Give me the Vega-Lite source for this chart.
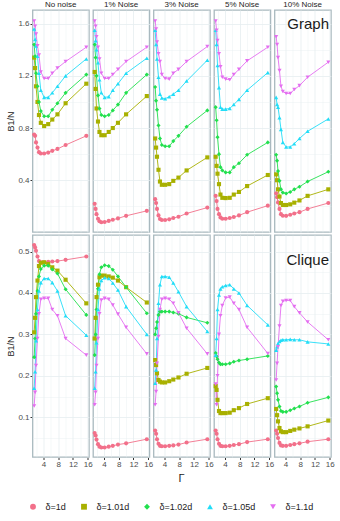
{
"$schema":"https://vega.github.io/schema/vega-lite/v6.json",
"padding":{"left":6.5,"top":1,"right":4,"bottom":2},
"datasets":{"pts":[
{"r":"G","c":"No noise","d":"δ=1d","g":1.5,"b":0.75},{"r":"G","c":"No noise","d":"δ=1d","g":1.75,"b":0.74},{"r":"G","c":"No noise","d":"δ=1d","g":2,"b":0.69},{"r":"G","c":"No noise","d":"δ=1d","g":2.4,"b":0.65},{"r":"G","c":"No noise","d":"δ=1d","g":2.8,"b":0.615},{"r":"G","c":"No noise","d":"δ=1d","g":3.3,"b":0.605},{"r":"G","c":"No noise","d":"δ=1d","g":4.2,"b":0.605},{"r":"G","c":"No noise","d":"δ=1d","g":5.3,"b":0.612},{"r":"G","c":"No noise","d":"δ=1d","g":6.4,"b":0.625},{"r":"G","c":"No noise","d":"δ=1d","g":7.8,"b":0.64},{"r":"G","c":"No noise","d":"δ=1d","g":10,"b":0.67},{"r":"G","c":"No noise","d":"δ=1d","g":15.6,"b":0.74},
{"r":"G","c":"No noise","d":"δ=1.01d","g":1.5,"b":1.34},{"r":"G","c":"No noise","d":"δ=1.01d","g":1.75,"b":1.26},{"r":"G","c":"No noise","d":"δ=1.01d","g":2,"b":1.12},{"r":"G","c":"No noise","d":"δ=1.01d","g":2.4,"b":1.0},{"r":"G","c":"No noise","d":"δ=1.01d","g":2.8,"b":0.9},{"r":"G","c":"No noise","d":"δ=1.01d","g":3.3,"b":0.84},{"r":"G","c":"No noise","d":"δ=1.01d","g":4.2,"b":0.815},{"r":"G","c":"No noise","d":"δ=1.01d","g":5.3,"b":0.83},{"r":"G","c":"No noise","d":"δ=1.01d","g":6.4,"b":0.865},{"r":"G","c":"No noise","d":"δ=1.01d","g":7.8,"b":0.905},{"r":"G","c":"No noise","d":"δ=1.01d","g":10,"b":0.99},{"r":"G","c":"No noise","d":"δ=1.01d","g":15.6,"b":1.14},
{"r":"G","c":"No noise","d":"δ=1.02d","g":1.5,"b":1.44},{"r":"G","c":"No noise","d":"δ=1.02d","g":1.75,"b":1.35},{"r":"G","c":"No noise","d":"δ=1.02d","g":2,"b":1.22},{"r":"G","c":"No noise","d":"δ=1.02d","g":2.4,"b":1.12},{"r":"G","c":"No noise","d":"δ=1.02d","g":2.8,"b":1.0},{"r":"G","c":"No noise","d":"δ=1.02d","g":3.3,"b":0.93},{"r":"G","c":"No noise","d":"δ=1.02d","g":4.2,"b":0.89},{"r":"G","c":"No noise","d":"δ=1.02d","g":5.3,"b":0.89},{"r":"G","c":"No noise","d":"δ=1.02d","g":6.4,"b":0.94},{"r":"G","c":"No noise","d":"δ=1.02d","g":7.8,"b":0.99},{"r":"G","c":"No noise","d":"δ=1.02d","g":10,"b":1.07},{"r":"G","c":"No noise","d":"δ=1.02d","g":15.6,"b":1.21},
{"r":"G","c":"No noise","d":"δ=1.05d","g":1.5,"b":1.56},{"r":"G","c":"No noise","d":"δ=1.05d","g":1.75,"b":1.48},{"r":"G","c":"No noise","d":"δ=1.05d","g":2,"b":1.43},{"r":"G","c":"No noise","d":"δ=1.05d","g":2.4,"b":1.35},{"r":"G","c":"No noise","d":"δ=1.05d","g":2.8,"b":1.22},{"r":"G","c":"No noise","d":"δ=1.05d","g":3.3,"b":1.09},{"r":"G","c":"No noise","d":"δ=1.05d","g":4.2,"b":1.035},{"r":"G","c":"No noise","d":"δ=1.05d","g":5.3,"b":1.035},{"r":"G","c":"No noise","d":"δ=1.05d","g":6.4,"b":1.07},{"r":"G","c":"No noise","d":"δ=1.05d","g":7.8,"b":1.12},{"r":"G","c":"No noise","d":"δ=1.05d","g":10,"b":1.2},{"r":"G","c":"No noise","d":"δ=1.05d","g":15.6,"b":1.33},
{"r":"G","c":"No noise","d":"δ=1.1d","g":1.5,"b":1.62},{"r":"G","c":"No noise","d":"δ=1.1d","g":1.75,"b":1.58},{"r":"G","c":"No noise","d":"δ=1.1d","g":2,"b":1.52},{"r":"G","c":"No noise","d":"δ=1.1d","g":2.4,"b":1.43},{"r":"G","c":"No noise","d":"δ=1.1d","g":2.8,"b":1.36},{"r":"G","c":"No noise","d":"δ=1.1d","g":3.3,"b":1.23},{"r":"G","c":"No noise","d":"δ=1.1d","g":4.2,"b":1.18},{"r":"G","c":"No noise","d":"δ=1.1d","g":5.3,"b":1.18},{"r":"G","c":"No noise","d":"δ=1.1d","g":6.4,"b":1.22},{"r":"G","c":"No noise","d":"δ=1.1d","g":7.8,"b":1.26},{"r":"G","c":"No noise","d":"δ=1.1d","g":10,"b":1.31},{"r":"G","c":"No noise","d":"δ=1.1d","g":15.6,"b":1.42},
{"r":"G","c":"1% Noise","d":"δ=1d","g":1.5,"b":0.22},{"r":"G","c":"1% Noise","d":"δ=1d","g":1.75,"b":0.18},{"r":"G","c":"1% Noise","d":"δ=1d","g":2,"b":0.14},{"r":"G","c":"1% Noise","d":"δ=1d","g":2.4,"b":0.105},{"r":"G","c":"1% Noise","d":"δ=1d","g":2.8,"b":0.085},{"r":"G","c":"1% Noise","d":"δ=1d","g":3.3,"b":0.078},{"r":"G","c":"1% Noise","d":"δ=1d","g":4.2,"b":0.08},{"r":"G","c":"1% Noise","d":"δ=1d","g":5.3,"b":0.088},{"r":"G","c":"1% Noise","d":"δ=1d","g":6.4,"b":0.097},{"r":"G","c":"1% Noise","d":"δ=1d","g":7.8,"b":0.107},{"r":"G","c":"1% Noise","d":"δ=1d","g":10,"b":0.127},{"r":"G","c":"1% Noise","d":"δ=1d","g":15.6,"b":0.165},
{"r":"G","c":"1% Noise","d":"δ=1.01d","g":1.5,"b":1.23},{"r":"G","c":"1% Noise","d":"δ=1.01d","g":1.75,"b":1.1},{"r":"G","c":"1% Noise","d":"δ=1.01d","g":2,"b":0.95},{"r":"G","c":"1% Noise","d":"δ=1.01d","g":2.4,"b":0.85},{"r":"G","c":"1% Noise","d":"δ=1.01d","g":2.8,"b":0.77},{"r":"G","c":"1% Noise","d":"δ=1.01d","g":3.3,"b":0.745},{"r":"G","c":"1% Noise","d":"δ=1.01d","g":4.2,"b":0.745},{"r":"G","c":"1% Noise","d":"δ=1.01d","g":5.3,"b":0.77},{"r":"G","c":"1% Noise","d":"δ=1.01d","g":6.4,"b":0.8},{"r":"G","c":"1% Noise","d":"δ=1.01d","g":7.8,"b":0.84},{"r":"G","c":"1% Noise","d":"δ=1.01d","g":10,"b":0.905},{"r":"G","c":"1% Noise","d":"δ=1.01d","g":15.6,"b":1.045},
{"r":"G","c":"1% Noise","d":"δ=1.02d","g":1.5,"b":1.44},{"r":"G","c":"1% Noise","d":"δ=1.02d","g":1.75,"b":1.34},{"r":"G","c":"1% Noise","d":"δ=1.02d","g":2,"b":1.2},{"r":"G","c":"1% Noise","d":"δ=1.02d","g":2.4,"b":1.05},{"r":"G","c":"1% Noise","d":"δ=1.02d","g":2.8,"b":0.95},{"r":"G","c":"1% Noise","d":"δ=1.02d","g":3.3,"b":0.9},{"r":"G","c":"1% Noise","d":"δ=1.02d","g":4.2,"b":0.89},{"r":"G","c":"1% Noise","d":"δ=1.02d","g":5.3,"b":0.9},{"r":"G","c":"1% Noise","d":"δ=1.02d","g":6.4,"b":0.935},{"r":"G","c":"1% Noise","d":"δ=1.02d","g":7.8,"b":0.98},{"r":"G","c":"1% Noise","d":"δ=1.02d","g":10,"b":1.07},{"r":"G","c":"1% Noise","d":"δ=1.02d","g":15.6,"b":1.21},
{"r":"G","c":"1% Noise","d":"δ=1.05d","g":1.5,"b":1.55},{"r":"G","c":"1% Noise","d":"δ=1.05d","g":1.75,"b":1.47},{"r":"G","c":"1% Noise","d":"δ=1.05d","g":2,"b":1.4},{"r":"G","c":"1% Noise","d":"δ=1.05d","g":2.4,"b":1.3},{"r":"G","c":"1% Noise","d":"δ=1.05d","g":2.8,"b":1.17},{"r":"G","c":"1% Noise","d":"δ=1.05d","g":3.3,"b":1.07},{"r":"G","c":"1% Noise","d":"δ=1.05d","g":4.2,"b":1.035},{"r":"G","c":"1% Noise","d":"δ=1.05d","g":5.3,"b":1.04},{"r":"G","c":"1% Noise","d":"δ=1.05d","g":6.4,"b":1.09},{"r":"G","c":"1% Noise","d":"δ=1.05d","g":7.8,"b":1.14},{"r":"G","c":"1% Noise","d":"δ=1.05d","g":10,"b":1.22},{"r":"G","c":"1% Noise","d":"δ=1.05d","g":15.6,"b":1.335},
{"r":"G","c":"1% Noise","d":"δ=1.1d","g":1.5,"b":1.62},{"r":"G","c":"1% Noise","d":"δ=1.1d","g":1.75,"b":1.58},{"r":"G","c":"1% Noise","d":"δ=1.1d","g":2,"b":1.5},{"r":"G","c":"1% Noise","d":"δ=1.1d","g":2.4,"b":1.42},{"r":"G","c":"1% Noise","d":"δ=1.1d","g":2.8,"b":1.33},{"r":"G","c":"1% Noise","d":"δ=1.1d","g":3.3,"b":1.22},{"r":"G","c":"1% Noise","d":"δ=1.1d","g":4.2,"b":1.18},{"r":"G","c":"1% Noise","d":"δ=1.1d","g":5.3,"b":1.18},{"r":"G","c":"1% Noise","d":"δ=1.1d","g":6.4,"b":1.21},{"r":"G","c":"1% Noise","d":"δ=1.1d","g":7.8,"b":1.25},{"r":"G","c":"1% Noise","d":"δ=1.1d","g":10,"b":1.31},{"r":"G","c":"1% Noise","d":"δ=1.1d","g":15.6,"b":1.42},
{"r":"G","c":"3% Noise","d":"δ=1d","g":1.5,"b":0.255},{"r":"G","c":"3% Noise","d":"δ=1d","g":1.75,"b":0.225},{"r":"G","c":"3% Noise","d":"δ=1d","g":2,"b":0.18},{"r":"G","c":"3% Noise","d":"δ=1d","g":2.4,"b":0.13},{"r":"G","c":"3% Noise","d":"δ=1d","g":2.8,"b":0.103},{"r":"G","c":"3% Noise","d":"δ=1d","g":3.3,"b":0.095},{"r":"G","c":"3% Noise","d":"δ=1d","g":4.2,"b":0.095},{"r":"G","c":"3% Noise","d":"δ=1d","g":5.3,"b":0.1},{"r":"G","c":"3% Noise","d":"δ=1d","g":6.4,"b":0.11},{"r":"G","c":"3% Noise","d":"δ=1d","g":7.8,"b":0.12},{"r":"G","c":"3% Noise","d":"δ=1d","g":10,"b":0.145},{"r":"G","c":"3% Noise","d":"δ=1d","g":15.6,"b":0.19},
{"r":"G","c":"3% Noise","d":"δ=1.01d","g":1.5,"b":0.72},{"r":"G","c":"3% Noise","d":"δ=1.01d","g":1.75,"b":0.65},{"r":"G","c":"3% Noise","d":"δ=1.01d","g":2,"b":0.58},{"r":"G","c":"3% Noise","d":"δ=1.01d","g":2.4,"b":0.48},{"r":"G","c":"3% Noise","d":"δ=1.01d","g":2.8,"b":0.39},{"r":"G","c":"3% Noise","d":"δ=1.01d","g":3.3,"b":0.365},{"r":"G","c":"3% Noise","d":"δ=1.01d","g":4.2,"b":0.365},{"r":"G","c":"3% Noise","d":"δ=1.01d","g":5.3,"b":0.37},{"r":"G","c":"3% Noise","d":"δ=1.01d","g":6.4,"b":0.395},{"r":"G","c":"3% Noise","d":"δ=1.01d","g":7.8,"b":0.42},{"r":"G","c":"3% Noise","d":"δ=1.01d","g":10,"b":0.475},{"r":"G","c":"3% Noise","d":"δ=1.01d","g":15.6,"b":0.575},
{"r":"G","c":"3% Noise","d":"δ=1.02d","g":1.5,"b":1.115},{"r":"G","c":"3% Noise","d":"δ=1.02d","g":1.75,"b":1.01},{"r":"G","c":"3% Noise","d":"δ=1.02d","g":2,"b":0.94},{"r":"G","c":"3% Noise","d":"δ=1.02d","g":2.4,"b":0.82},{"r":"G","c":"3% Noise","d":"δ=1.02d","g":2.8,"b":0.72},{"r":"G","c":"3% Noise","d":"δ=1.02d","g":3.3,"b":0.67},{"r":"G","c":"3% Noise","d":"δ=1.02d","g":4.2,"b":0.66},{"r":"G","c":"3% Noise","d":"δ=1.02d","g":5.3,"b":0.66},{"r":"G","c":"3% Noise","d":"δ=1.02d","g":6.4,"b":0.7},{"r":"G","c":"3% Noise","d":"δ=1.02d","g":7.8,"b":0.74},{"r":"G","c":"3% Noise","d":"δ=1.02d","g":10,"b":0.81},{"r":"G","c":"3% Noise","d":"δ=1.02d","g":15.6,"b":0.935},
{"r":"G","c":"3% Noise","d":"δ=1.05d","g":1.5,"b":1.55},{"r":"G","c":"3% Noise","d":"δ=1.05d","g":1.75,"b":1.44},{"r":"G","c":"3% Noise","d":"δ=1.05d","g":2,"b":1.33},{"r":"G","c":"3% Noise","d":"δ=1.05d","g":2.4,"b":1.19},{"r":"G","c":"3% Noise","d":"δ=1.05d","g":2.8,"b":1.06},{"r":"G","c":"3% Noise","d":"δ=1.05d","g":3.3,"b":1.03},{"r":"G","c":"3% Noise","d":"δ=1.05d","g":4.2,"b":1.025},{"r":"G","c":"3% Noise","d":"δ=1.05d","g":5.3,"b":1.04},{"r":"G","c":"3% Noise","d":"δ=1.05d","g":6.4,"b":1.06},{"r":"G","c":"3% Noise","d":"δ=1.05d","g":7.8,"b":1.09},{"r":"G","c":"3% Noise","d":"δ=1.05d","g":10,"b":1.16},{"r":"G","c":"3% Noise","d":"δ=1.05d","g":15.6,"b":1.32},
{"r":"G","c":"3% Noise","d":"δ=1.1d","g":1.5,"b":1.62},{"r":"G","c":"3% Noise","d":"δ=1.1d","g":1.75,"b":1.56},{"r":"G","c":"3% Noise","d":"δ=1.1d","g":2,"b":1.46},{"r":"G","c":"3% Noise","d":"δ=1.1d","g":2.4,"b":1.37},{"r":"G","c":"3% Noise","d":"δ=1.1d","g":2.8,"b":1.31},{"r":"G","c":"3% Noise","d":"δ=1.1d","g":3.3,"b":1.21},{"r":"G","c":"3% Noise","d":"δ=1.1d","g":4.2,"b":1.18},{"r":"G","c":"3% Noise","d":"δ=1.1d","g":5.3,"b":1.175},{"r":"G","c":"3% Noise","d":"δ=1.1d","g":6.4,"b":1.22},{"r":"G","c":"3% Noise","d":"δ=1.1d","g":7.8,"b":1.25},{"r":"G","c":"3% Noise","d":"δ=1.1d","g":10,"b":1.31},{"r":"G","c":"3% Noise","d":"δ=1.1d","g":15.6,"b":1.425},
{"r":"G","c":"5% Noise","d":"δ=1d","g":1.5,"b":0.28},{"r":"G","c":"5% Noise","d":"δ=1d","g":1.75,"b":0.24},{"r":"G","c":"5% Noise","d":"δ=1d","g":2,"b":0.18},{"r":"G","c":"5% Noise","d":"δ=1d","g":2.4,"b":0.14},{"r":"G","c":"5% Noise","d":"δ=1d","g":2.8,"b":0.115},{"r":"G","c":"5% Noise","d":"δ=1d","g":3.3,"b":0.105},{"r":"G","c":"5% Noise","d":"δ=1d","g":4.2,"b":0.105},{"r":"G","c":"5% Noise","d":"δ=1d","g":5.3,"b":0.11},{"r":"G","c":"5% Noise","d":"δ=1d","g":6.4,"b":0.118},{"r":"G","c":"5% Noise","d":"δ=1d","g":7.8,"b":0.13},{"r":"G","c":"5% Noise","d":"δ=1d","g":10,"b":0.155},{"r":"G","c":"5% Noise","d":"δ=1d","g":15.6,"b":0.205},
{"r":"G","c":"5% Noise","d":"δ=1.01d","g":1.5,"b":0.58},{"r":"G","c":"5% Noise","d":"δ=1.01d","g":1.75,"b":0.51},{"r":"G","c":"5% Noise","d":"δ=1.01d","g":2,"b":0.45},{"r":"G","c":"5% Noise","d":"δ=1.01d","g":2.4,"b":0.37},{"r":"G","c":"5% Noise","d":"δ=1.01d","g":2.8,"b":0.29},{"r":"G","c":"5% Noise","d":"δ=1.01d","g":3.3,"b":0.265},{"r":"G","c":"5% Noise","d":"δ=1.01d","g":4.2,"b":0.263},{"r":"G","c":"5% Noise","d":"δ=1.01d","g":5.3,"b":0.265},{"r":"G","c":"5% Noise","d":"δ=1.01d","g":6.4,"b":0.29},{"r":"G","c":"5% Noise","d":"δ=1.01d","g":7.8,"b":0.31},{"r":"G","c":"5% Noise","d":"δ=1.01d","g":10,"b":0.355},{"r":"G","c":"5% Noise","d":"δ=1.01d","g":15.6,"b":0.44},
{"r":"G","c":"5% Noise","d":"δ=1.02d","g":1.5,"b":0.96},{"r":"G","c":"5% Noise","d":"δ=1.02d","g":1.75,"b":0.86},{"r":"G","c":"5% Noise","d":"δ=1.02d","g":2,"b":0.73},{"r":"G","c":"5% Noise","d":"δ=1.02d","g":2.4,"b":0.6},{"r":"G","c":"5% Noise","d":"δ=1.02d","g":2.8,"b":0.5},{"r":"G","c":"5% Noise","d":"δ=1.02d","g":3.3,"b":0.475},{"r":"G","c":"5% Noise","d":"δ=1.02d","g":4.2,"b":0.46},{"r":"G","c":"5% Noise","d":"δ=1.02d","g":5.3,"b":0.46},{"r":"G","c":"5% Noise","d":"δ=1.02d","g":6.4,"b":0.5},{"r":"G","c":"5% Noise","d":"δ=1.02d","g":7.8,"b":0.53},{"r":"G","c":"5% Noise","d":"δ=1.02d","g":10,"b":0.595},{"r":"G","c":"5% Noise","d":"δ=1.02d","g":15.6,"b":0.69},
{"r":"G","c":"5% Noise","d":"δ=1.05d","g":1.5,"b":1.55},{"r":"G","c":"5% Noise","d":"δ=1.05d","g":1.75,"b":1.44},{"r":"G","c":"5% Noise","d":"δ=1.05d","g":2,"b":1.28},{"r":"G","c":"5% Noise","d":"δ=1.05d","g":2.4,"b":1.11},{"r":"G","c":"5% Noise","d":"δ=1.05d","g":2.8,"b":0.96},{"r":"G","c":"5% Noise","d":"δ=1.05d","g":3.3,"b":0.945},{"r":"G","c":"5% Noise","d":"δ=1.05d","g":4.2,"b":0.945},{"r":"G","c":"5% Noise","d":"δ=1.05d","g":5.3,"b":0.95},{"r":"G","c":"5% Noise","d":"δ=1.05d","g":6.4,"b":0.98},{"r":"G","c":"5% Noise","d":"δ=1.05d","g":7.8,"b":1.02},{"r":"G","c":"5% Noise","d":"δ=1.05d","g":10,"b":1.09},{"r":"G","c":"5% Noise","d":"δ=1.05d","g":15.6,"b":1.225},
{"r":"G","c":"5% Noise","d":"δ=1.1d","g":1.5,"b":1.62},{"r":"G","c":"5% Noise","d":"δ=1.1d","g":1.75,"b":1.55},{"r":"G","c":"5% Noise","d":"δ=1.1d","g":2,"b":1.47},{"r":"G","c":"5% Noise","d":"δ=1.1d","g":2.4,"b":1.37},{"r":"G","c":"5% Noise","d":"δ=1.1d","g":2.8,"b":1.27},{"r":"G","c":"5% Noise","d":"δ=1.1d","g":3.3,"b":1.19},{"r":"G","c":"5% Noise","d":"δ=1.1d","g":4.2,"b":1.175},{"r":"G","c":"5% Noise","d":"δ=1.1d","g":5.3,"b":1.17},{"r":"G","c":"5% Noise","d":"δ=1.1d","g":6.4,"b":1.21},{"r":"G","c":"5% Noise","d":"δ=1.1d","g":7.8,"b":1.25},{"r":"G","c":"5% Noise","d":"δ=1.1d","g":10,"b":1.315},{"r":"G","c":"5% Noise","d":"δ=1.1d","g":15.6,"b":1.42},
{"r":"G","c":"10% Noise","d":"δ=1d","g":1.5,"b":0.3},{"r":"G","c":"10% Noise","d":"δ=1d","g":1.75,"b":0.27},{"r":"G","c":"10% Noise","d":"δ=1d","g":2,"b":0.23},{"r":"G","c":"10% Noise","d":"δ=1d","g":2.4,"b":0.18},{"r":"G","c":"10% Noise","d":"δ=1d","g":2.8,"b":0.14},{"r":"G","c":"10% Noise","d":"δ=1d","g":3.3,"b":0.128},{"r":"G","c":"10% Noise","d":"δ=1d","g":4.2,"b":0.127},{"r":"G","c":"10% Noise","d":"δ=1d","g":5.3,"b":0.135},{"r":"G","c":"10% Noise","d":"δ=1d","g":6.4,"b":0.145},{"r":"G","c":"10% Noise","d":"δ=1d","g":7.8,"b":0.155},{"r":"G","c":"10% Noise","d":"δ=1d","g":10,"b":0.18},{"r":"G","c":"10% Noise","d":"δ=1d","g":15.6,"b":0.225},
{"r":"G","c":"10% Noise","d":"δ=1.01d","g":1.5,"b":0.445},{"r":"G","c":"10% Noise","d":"δ=1.01d","g":1.75,"b":0.4},{"r":"G","c":"10% Noise","d":"δ=1.01d","g":2,"b":0.33},{"r":"G","c":"10% Noise","d":"δ=1.01d","g":2.4,"b":0.275},{"r":"G","c":"10% Noise","d":"δ=1.01d","g":2.8,"b":0.225},{"r":"G","c":"10% Noise","d":"δ=1.01d","g":3.3,"b":0.21},{"r":"G","c":"10% Noise","d":"δ=1.01d","g":4.2,"b":0.21},{"r":"G","c":"10% Noise","d":"δ=1.01d","g":5.3,"b":0.215},{"r":"G","c":"10% Noise","d":"δ=1.01d","g":6.4,"b":0.228},{"r":"G","c":"10% Noise","d":"δ=1.01d","g":7.8,"b":0.245},{"r":"G","c":"10% Noise","d":"δ=1.01d","g":10,"b":0.28},{"r":"G","c":"10% Noise","d":"δ=1.01d","g":15.6,"b":0.33},
{"r":"G","c":"10% Noise","d":"δ=1.02d","g":1.5,"b":0.595},{"r":"G","c":"10% Noise","d":"δ=1.02d","g":1.75,"b":0.55},{"r":"G","c":"10% Noise","d":"δ=1.02d","g":2,"b":0.47},{"r":"G","c":"10% Noise","d":"δ=1.02d","g":2.4,"b":0.395},{"r":"G","c":"10% Noise","d":"δ=1.02d","g":2.8,"b":0.33},{"r":"G","c":"10% Noise","d":"δ=1.02d","g":3.3,"b":0.305},{"r":"G","c":"10% Noise","d":"δ=1.02d","g":4.2,"b":0.298},{"r":"G","c":"10% Noise","d":"δ=1.02d","g":5.3,"b":0.31},{"r":"G","c":"10% Noise","d":"δ=1.02d","g":6.4,"b":0.33},{"r":"G","c":"10% Noise","d":"δ=1.02d","g":7.8,"b":0.35},{"r":"G","c":"10% Noise","d":"δ=1.02d","g":10,"b":0.39},{"r":"G","c":"10% Noise","d":"δ=1.02d","g":15.6,"b":0.465},
{"r":"G","c":"10% Noise","d":"δ=1.05d","g":1.5,"b":1.035},{"r":"G","c":"10% Noise","d":"δ=1.05d","g":1.75,"b":0.98},{"r":"G","c":"10% Noise","d":"δ=1.05d","g":2,"b":0.96},{"r":"G","c":"10% Noise","d":"δ=1.05d","g":2.4,"b":0.88},{"r":"G","c":"10% Noise","d":"δ=1.05d","g":2.8,"b":0.79},{"r":"G","c":"10% Noise","d":"δ=1.05d","g":3.3,"b":0.69},{"r":"G","c":"10% Noise","d":"δ=1.05d","g":4.2,"b":0.655},{"r":"G","c":"10% Noise","d":"δ=1.05d","g":5.3,"b":0.655},{"r":"G","c":"10% Noise","d":"δ=1.05d","g":6.4,"b":0.68},{"r":"G","c":"10% Noise","d":"δ=1.05d","g":7.8,"b":0.72},{"r":"G","c":"10% Noise","d":"δ=1.05d","g":10,"b":0.775},{"r":"G","c":"10% Noise","d":"δ=1.05d","g":15.6,"b":0.87},
{"r":"G","c":"10% Noise","d":"δ=1.1d","g":1.5,"b":1.5},{"r":"G","c":"10% Noise","d":"δ=1.1d","g":1.75,"b":1.44},{"r":"G","c":"10% Noise","d":"δ=1.1d","g":2,"b":1.34},{"r":"G","c":"10% Noise","d":"δ=1.1d","g":2.4,"b":1.24},{"r":"G","c":"10% Noise","d":"δ=1.1d","g":2.8,"b":1.12},{"r":"G","c":"10% Noise","d":"δ=1.1d","g":3.3,"b":1.08},{"r":"G","c":"10% Noise","d":"δ=1.1d","g":4.2,"b":1.065},{"r":"G","c":"10% Noise","d":"δ=1.1d","g":5.3,"b":1.065},{"r":"G","c":"10% Noise","d":"δ=1.1d","g":6.4,"b":1.095},{"r":"G","c":"10% Noise","d":"δ=1.1d","g":7.8,"b":1.125},{"r":"G","c":"10% Noise","d":"δ=1.1d","g":10,"b":1.19},{"r":"G","c":"10% Noise","d":"δ=1.1d","g":15.6,"b":1.305},
{"r":"C","c":"No noise","d":"δ=1d","g":1.5,"b":0.516},{"r":"C","c":"No noise","d":"δ=1d","g":1.75,"b":0.51},{"r":"C","c":"No noise","d":"δ=1d","g":2,"b":0.502},{"r":"C","c":"No noise","d":"δ=1d","g":2.4,"b":0.488},{"r":"C","c":"No noise","d":"δ=1d","g":2.8,"b":0.477},{"r":"C","c":"No noise","d":"δ=1d","g":3.3,"b":0.474},{"r":"C","c":"No noise","d":"δ=1d","g":4.2,"b":0.474},{"r":"C","c":"No noise","d":"δ=1d","g":5.3,"b":0.475},{"r":"C","c":"No noise","d":"δ=1d","g":6.4,"b":0.476},{"r":"C","c":"No noise","d":"δ=1d","g":7.8,"b":0.477},{"r":"C","c":"No noise","d":"δ=1d","g":10,"b":0.48},{"r":"C","c":"No noise","d":"δ=1d","g":15.6,"b":0.488},
{"r":"C","c":"No noise","d":"δ=1.01d","g":1.5,"b":0.305},{"r":"C","c":"No noise","d":"δ=1.01d","g":1.75,"b":0.34},{"r":"C","c":"No noise","d":"δ=1.01d","g":2,"b":0.39},{"r":"C","c":"No noise","d":"δ=1.01d","g":2.4,"b":0.43},{"r":"C","c":"No noise","d":"δ=1.01d","g":2.8,"b":0.465},{"r":"C","c":"No noise","d":"δ=1.01d","g":3.3,"b":0.473},{"r":"C","c":"No noise","d":"δ=1.01d","g":4.2,"b":0.474},{"r":"C","c":"No noise","d":"δ=1.01d","g":5.3,"b":0.47},{"r":"C","c":"No noise","d":"δ=1.01d","g":6.4,"b":0.462},{"r":"C","c":"No noise","d":"δ=1.01d","g":7.8,"b":0.454},{"r":"C","c":"No noise","d":"δ=1.01d","g":10,"b":0.432},{"r":"C","c":"No noise","d":"δ=1.01d","g":15.6,"b":0.375},
{"r":"C","c":"No noise","d":"δ=1.02d","g":1.5,"b":0.245},{"r":"C","c":"No noise","d":"δ=1.02d","g":1.75,"b":0.29},{"r":"C","c":"No noise","d":"δ=1.02d","g":2,"b":0.35},{"r":"C","c":"No noise","d":"δ=1.02d","g":2.4,"b":0.405},{"r":"C","c":"No noise","d":"δ=1.02d","g":2.8,"b":0.44},{"r":"C","c":"No noise","d":"δ=1.02d","g":3.3,"b":0.458},{"r":"C","c":"No noise","d":"δ=1.02d","g":4.2,"b":0.466},{"r":"C","c":"No noise","d":"δ=1.02d","g":5.3,"b":0.466},{"r":"C","c":"No noise","d":"δ=1.02d","g":6.4,"b":0.457},{"r":"C","c":"No noise","d":"δ=1.02d","g":7.8,"b":0.447},{"r":"C","c":"No noise","d":"δ=1.02d","g":10,"b":0.409},{"r":"C","c":"No noise","d":"δ=1.02d","g":15.6,"b":0.347},
{"r":"C","c":"No noise","d":"δ=1.05d","g":1.5,"b":0.17},{"r":"C","c":"No noise","d":"δ=1.05d","g":1.75,"b":0.21},{"r":"C","c":"No noise","d":"δ=1.05d","g":2,"b":0.285},{"r":"C","c":"No noise","d":"δ=1.05d","g":2.4,"b":0.36},{"r":"C","c":"No noise","d":"δ=1.05d","g":2.8,"b":0.405},{"r":"C","c":"No noise","d":"δ=1.05d","g":3.3,"b":0.425},{"r":"C","c":"No noise","d":"δ=1.05d","g":4.2,"b":0.435},{"r":"C","c":"No noise","d":"δ=1.05d","g":5.3,"b":0.435},{"r":"C","c":"No noise","d":"δ=1.05d","g":6.4,"b":0.425},{"r":"C","c":"No noise","d":"δ=1.05d","g":7.8,"b":0.405},{"r":"C","c":"No noise","d":"δ=1.05d","g":10,"b":0.345},{"r":"C","c":"No noise","d":"δ=1.05d","g":15.6,"b":0.298},
{"r":"C","c":"No noise","d":"δ=1.1d","g":1.5,"b":0.127},{"r":"C","c":"No noise","d":"δ=1.1d","g":1.75,"b":0.16},{"r":"C","c":"No noise","d":"δ=1.1d","g":2,"b":0.225},{"r":"C","c":"No noise","d":"δ=1.1d","g":2.4,"b":0.29},{"r":"C","c":"No noise","d":"δ=1.1d","g":2.8,"b":0.35},{"r":"C","c":"No noise","d":"δ=1.1d","g":3.3,"b":0.385},{"r":"C","c":"No noise","d":"δ=1.1d","g":4.2,"b":0.387},{"r":"C","c":"No noise","d":"δ=1.1d","g":5.3,"b":0.387},{"r":"C","c":"No noise","d":"δ=1.1d","g":6.4,"b":0.36},{"r":"C","c":"No noise","d":"δ=1.1d","g":7.8,"b":0.345},{"r":"C","c":"No noise","d":"δ=1.1d","g":10,"b":0.29},{"r":"C","c":"No noise","d":"δ=1.1d","g":15.6,"b":0.25},
{"r":"C","c":"1% Noise","d":"δ=1d","g":1.5,"b":0.062},{"r":"C","c":"1% Noise","d":"δ=1d","g":1.75,"b":0.056},{"r":"C","c":"1% Noise","d":"δ=1d","g":2,"b":0.046},{"r":"C","c":"1% Noise","d":"δ=1d","g":2.4,"b":0.035},{"r":"C","c":"1% Noise","d":"δ=1d","g":2.8,"b":0.029},{"r":"C","c":"1% Noise","d":"δ=1d","g":3.3,"b":0.027},{"r":"C","c":"1% Noise","d":"δ=1d","g":4.2,"b":0.027},{"r":"C","c":"1% Noise","d":"δ=1d","g":5.3,"b":0.029},{"r":"C","c":"1% Noise","d":"δ=1d","g":6.4,"b":0.031},{"r":"C","c":"1% Noise","d":"δ=1d","g":7.8,"b":0.034},{"r":"C","c":"1% Noise","d":"δ=1d","g":10,"b":0.037},{"r":"C","c":"1% Noise","d":"δ=1d","g":15.6,"b":0.047},
{"r":"C","c":"1% Noise","d":"δ=1.01d","g":1.5,"b":0.29},{"r":"C","c":"1% Noise","d":"δ=1.01d","g":1.75,"b":0.34},{"r":"C","c":"1% Noise","d":"δ=1.01d","g":2,"b":0.39},{"r":"C","c":"1% Noise","d":"δ=1.01d","g":2.4,"b":0.42},{"r":"C","c":"1% Noise","d":"δ=1.01d","g":2.8,"b":0.438},{"r":"C","c":"1% Noise","d":"δ=1.01d","g":3.3,"b":0.442},{"r":"C","c":"1% Noise","d":"δ=1.01d","g":4.2,"b":0.442},{"r":"C","c":"1% Noise","d":"δ=1.01d","g":5.3,"b":0.44},{"r":"C","c":"1% Noise","d":"δ=1.01d","g":6.4,"b":0.437},{"r":"C","c":"1% Noise","d":"δ=1.01d","g":7.8,"b":0.43},{"r":"C","c":"1% Noise","d":"δ=1.01d","g":10,"b":0.414},{"r":"C","c":"1% Noise","d":"δ=1.01d","g":15.6,"b":0.377},
{"r":"C","c":"1% Noise","d":"δ=1.02d","g":1.5,"b":0.25},{"r":"C","c":"1% Noise","d":"δ=1.02d","g":1.75,"b":0.3},{"r":"C","c":"1% Noise","d":"δ=1.02d","g":2,"b":0.36},{"r":"C","c":"1% Noise","d":"δ=1.02d","g":2.4,"b":0.41},{"r":"C","c":"1% Noise","d":"δ=1.02d","g":2.8,"b":0.445},{"r":"C","c":"1% Noise","d":"δ=1.02d","g":3.3,"b":0.462},{"r":"C","c":"1% Noise","d":"δ=1.02d","g":4.2,"b":0.467},{"r":"C","c":"1% Noise","d":"δ=1.02d","g":5.3,"b":0.465},{"r":"C","c":"1% Noise","d":"δ=1.02d","g":6.4,"b":0.456},{"r":"C","c":"1% Noise","d":"δ=1.02d","g":7.8,"b":0.44},{"r":"C","c":"1% Noise","d":"δ=1.02d","g":10,"b":0.414},{"r":"C","c":"1% Noise","d":"δ=1.02d","g":15.6,"b":0.351},
{"r":"C","c":"1% Noise","d":"δ=1.05d","g":1.5,"b":0.17},{"r":"C","c":"1% Noise","d":"δ=1.05d","g":1.75,"b":0.21},{"r":"C","c":"1% Noise","d":"δ=1.05d","g":2,"b":0.28},{"r":"C","c":"1% Noise","d":"δ=1.05d","g":2.4,"b":0.36},{"r":"C","c":"1% Noise","d":"δ=1.05d","g":2.8,"b":0.41},{"r":"C","c":"1% Noise","d":"δ=1.05d","g":3.3,"b":0.43},{"r":"C","c":"1% Noise","d":"δ=1.05d","g":4.2,"b":0.437},{"r":"C","c":"1% Noise","d":"δ=1.05d","g":5.3,"b":0.435},{"r":"C","c":"1% Noise","d":"δ=1.05d","g":6.4,"b":0.424},{"r":"C","c":"1% Noise","d":"δ=1.05d","g":7.8,"b":0.407},{"r":"C","c":"1% Noise","d":"δ=1.05d","g":10,"b":0.367},{"r":"C","c":"1% Noise","d":"δ=1.05d","g":15.6,"b":0.3},
{"r":"C","c":"1% Noise","d":"δ=1.1d","g":1.5,"b":0.13},{"r":"C","c":"1% Noise","d":"δ=1.1d","g":1.75,"b":0.16},{"r":"C","c":"1% Noise","d":"δ=1.1d","g":2,"b":0.225},{"r":"C","c":"1% Noise","d":"δ=1.1d","g":2.4,"b":0.29},{"r":"C","c":"1% Noise","d":"δ=1.1d","g":2.8,"b":0.35},{"r":"C","c":"1% Noise","d":"δ=1.1d","g":3.3,"b":0.383},{"r":"C","c":"1% Noise","d":"δ=1.1d","g":4.2,"b":0.387},{"r":"C","c":"1% Noise","d":"δ=1.1d","g":5.3,"b":0.385},{"r":"C","c":"1% Noise","d":"δ=1.1d","g":6.4,"b":0.371},{"r":"C","c":"1% Noise","d":"δ=1.1d","g":7.8,"b":0.349},{"r":"C","c":"1% Noise","d":"δ=1.1d","g":10,"b":0.317},{"r":"C","c":"1% Noise","d":"δ=1.1d","g":15.6,"b":0.253},
{"r":"C","c":"3% Noise","d":"δ=1d","g":1.5,"b":0.068},{"r":"C","c":"3% Noise","d":"δ=1d","g":1.75,"b":0.06},{"r":"C","c":"3% Noise","d":"δ=1d","g":2,"b":0.047},{"r":"C","c":"3% Noise","d":"δ=1d","g":2.4,"b":0.036},{"r":"C","c":"3% Noise","d":"δ=1d","g":2.8,"b":0.031},{"r":"C","c":"3% Noise","d":"δ=1d","g":3.3,"b":0.03},{"r":"C","c":"3% Noise","d":"δ=1d","g":4.2,"b":0.03},{"r":"C","c":"3% Noise","d":"δ=1d","g":5.3,"b":0.031},{"r":"C","c":"3% Noise","d":"δ=1d","g":6.4,"b":0.032},{"r":"C","c":"3% Noise","d":"δ=1d","g":7.8,"b":0.034},{"r":"C","c":"3% Noise","d":"δ=1d","g":10,"b":0.039},{"r":"C","c":"3% Noise","d":"δ=1d","g":15.6,"b":0.047},
{"r":"C","c":"3% Noise","d":"δ=1.01d","g":1.5,"b":0.238},{"r":"C","c":"3% Noise","d":"δ=1.01d","g":1.75,"b":0.226},{"r":"C","c":"3% Noise","d":"δ=1.01d","g":2,"b":0.206},{"r":"C","c":"3% Noise","d":"δ=1.01d","g":2.4,"b":0.19},{"r":"C","c":"3% Noise","d":"δ=1.01d","g":2.8,"b":0.186},{"r":"C","c":"3% Noise","d":"δ=1.01d","g":3.3,"b":0.184},{"r":"C","c":"3% Noise","d":"δ=1.01d","g":4.2,"b":0.184},{"r":"C","c":"3% Noise","d":"δ=1.01d","g":5.3,"b":0.187},{"r":"C","c":"3% Noise","d":"δ=1.01d","g":6.4,"b":0.191},{"r":"C","c":"3% Noise","d":"δ=1.01d","g":7.8,"b":0.196},{"r":"C","c":"3% Noise","d":"δ=1.01d","g":10,"b":0.205},{"r":"C","c":"3% Noise","d":"δ=1.01d","g":15.6,"b":0.219},
{"r":"C","c":"3% Noise","d":"δ=1.02d","g":1.5,"b":0.3},{"r":"C","c":"3% Noise","d":"δ=1.02d","g":1.75,"b":0.315},{"r":"C","c":"3% Noise","d":"δ=1.02d","g":2,"b":0.33},{"r":"C","c":"3% Noise","d":"δ=1.02d","g":2.4,"b":0.347},{"r":"C","c":"3% Noise","d":"δ=1.02d","g":2.8,"b":0.355},{"r":"C","c":"3% Noise","d":"δ=1.02d","g":3.3,"b":0.355},{"r":"C","c":"3% Noise","d":"δ=1.02d","g":4.2,"b":0.355},{"r":"C","c":"3% Noise","d":"δ=1.02d","g":5.3,"b":0.355},{"r":"C","c":"3% Noise","d":"δ=1.02d","g":6.4,"b":0.353},{"r":"C","c":"3% Noise","d":"δ=1.02d","g":7.8,"b":0.35},{"r":"C","c":"3% Noise","d":"δ=1.02d","g":10,"b":0.341},{"r":"C","c":"3% Noise","d":"δ=1.02d","g":15.6,"b":0.328},
{"r":"C","c":"3% Noise","d":"δ=1.05d","g":1.5,"b":0.182},{"r":"C","c":"3% Noise","d":"δ=1.05d","g":1.75,"b":0.214},{"r":"C","c":"3% Noise","d":"δ=1.05d","g":2,"b":0.29},{"r":"C","c":"3% Noise","d":"δ=1.05d","g":2.4,"b":0.375},{"r":"C","c":"3% Noise","d":"δ=1.05d","g":2.8,"b":0.42},{"r":"C","c":"3% Noise","d":"δ=1.05d","g":3.3,"b":0.44},{"r":"C","c":"3% Noise","d":"δ=1.05d","g":4.2,"b":0.44},{"r":"C","c":"3% Noise","d":"δ=1.05d","g":5.3,"b":0.438},{"r":"C","c":"3% Noise","d":"δ=1.05d","g":6.4,"b":0.424},{"r":"C","c":"3% Noise","d":"δ=1.05d","g":7.8,"b":0.403},{"r":"C","c":"3% Noise","d":"δ=1.05d","g":10,"b":0.367},{"r":"C","c":"3% Noise","d":"δ=1.05d","g":15.6,"b":0.307},
{"r":"C","c":"3% Noise","d":"δ=1.1d","g":1.5,"b":0.13},{"r":"C","c":"3% Noise","d":"δ=1.1d","g":1.75,"b":0.162},{"r":"C","c":"3% Noise","d":"δ=1.1d","g":2,"b":0.23},{"r":"C","c":"3% Noise","d":"δ=1.1d","g":2.4,"b":0.295},{"r":"C","c":"3% Noise","d":"δ=1.1d","g":2.8,"b":0.36},{"r":"C","c":"3% Noise","d":"δ=1.1d","g":3.3,"b":0.385},{"r":"C","c":"3% Noise","d":"δ=1.1d","g":4.2,"b":0.387},{"r":"C","c":"3% Noise","d":"δ=1.1d","g":5.3,"b":0.385},{"r":"C","c":"3% Noise","d":"δ=1.1d","g":6.4,"b":0.375},{"r":"C","c":"3% Noise","d":"δ=1.1d","g":7.8,"b":0.352},{"r":"C","c":"3% Noise","d":"δ=1.1d","g":10,"b":0.315},{"r":"C","c":"3% Noise","d":"δ=1.1d","g":15.6,"b":0.253},
{"r":"C","c":"5% Noise","d":"δ=1d","g":1.5,"b":0.068},{"r":"C","c":"5% Noise","d":"δ=1d","g":1.75,"b":0.06},{"r":"C","c":"5% Noise","d":"δ=1d","g":2,"b":0.047},{"r":"C","c":"5% Noise","d":"δ=1d","g":2.4,"b":0.036},{"r":"C","c":"5% Noise","d":"δ=1d","g":2.8,"b":0.031},{"r":"C","c":"5% Noise","d":"δ=1d","g":3.3,"b":0.03},{"r":"C","c":"5% Noise","d":"δ=1d","g":4.2,"b":0.03},{"r":"C","c":"5% Noise","d":"δ=1d","g":5.3,"b":0.031},{"r":"C","c":"5% Noise","d":"δ=1d","g":6.4,"b":0.033},{"r":"C","c":"5% Noise","d":"δ=1d","g":7.8,"b":0.035},{"r":"C","c":"5% Noise","d":"δ=1d","g":10,"b":0.04},{"r":"C","c":"5% Noise","d":"δ=1d","g":15.6,"b":0.047},
{"r":"C","c":"5% Noise","d":"δ=1.01d","g":1.5,"b":0.175},{"r":"C","c":"5% Noise","d":"δ=1.01d","g":1.75,"b":0.166},{"r":"C","c":"5% Noise","d":"δ=1.01d","g":2,"b":0.142},{"r":"C","c":"5% Noise","d":"δ=1.01d","g":2.4,"b":0.115},{"r":"C","c":"5% Noise","d":"δ=1.01d","g":2.8,"b":0.11},{"r":"C","c":"5% Noise","d":"δ=1.01d","g":3.3,"b":0.11},{"r":"C","c":"5% Noise","d":"δ=1.01d","g":4.2,"b":0.11},{"r":"C","c":"5% Noise","d":"δ=1.01d","g":5.3,"b":0.111},{"r":"C","c":"5% Noise","d":"δ=1.01d","g":6.4,"b":0.117},{"r":"C","c":"5% Noise","d":"δ=1.01d","g":7.8,"b":0.122},{"r":"C","c":"5% Noise","d":"δ=1.01d","g":10,"b":0.132},{"r":"C","c":"5% Noise","d":"δ=1.01d","g":15.6,"b":0.146},
{"r":"C","c":"5% Noise","d":"δ=1.02d","g":1.5,"b":0.255},{"r":"C","c":"5% Noise","d":"δ=1.02d","g":1.75,"b":0.247},{"r":"C","c":"5% Noise","d":"δ=1.02d","g":2,"b":0.24},{"r":"C","c":"5% Noise","d":"δ=1.02d","g":2.4,"b":0.232},{"r":"C","c":"5% Noise","d":"δ=1.02d","g":2.8,"b":0.228},{"r":"C","c":"5% Noise","d":"δ=1.02d","g":3.3,"b":0.228},{"r":"C","c":"5% Noise","d":"δ=1.02d","g":4.2,"b":0.228},{"r":"C","c":"5% Noise","d":"δ=1.02d","g":5.3,"b":0.23},{"r":"C","c":"5% Noise","d":"δ=1.02d","g":6.4,"b":0.234},{"r":"C","c":"5% Noise","d":"δ=1.02d","g":7.8,"b":0.237},{"r":"C","c":"5% Noise","d":"δ=1.02d","g":10,"b":0.24},{"r":"C","c":"5% Noise","d":"δ=1.02d","g":15.6,"b":0.248},
{"r":"C","c":"5% Noise","d":"δ=1.05d","g":1.5,"b":0.25},{"r":"C","c":"5% Noise","d":"δ=1.05d","g":1.75,"b":0.29},{"r":"C","c":"5% Noise","d":"δ=1.05d","g":2,"b":0.36},{"r":"C","c":"5% Noise","d":"δ=1.05d","g":2.4,"b":0.395},{"r":"C","c":"5% Noise","d":"δ=1.05d","g":2.8,"b":0.41},{"r":"C","c":"5% Noise","d":"δ=1.05d","g":3.3,"b":0.415},{"r":"C","c":"5% Noise","d":"δ=1.05d","g":4.2,"b":0.418},{"r":"C","c":"5% Noise","d":"δ=1.05d","g":5.3,"b":0.42},{"r":"C","c":"5% Noise","d":"δ=1.05d","g":6.4,"b":0.41},{"r":"C","c":"5% Noise","d":"δ=1.05d","g":7.8,"b":0.4},{"r":"C","c":"5% Noise","d":"δ=1.05d","g":10,"b":0.37},{"r":"C","c":"5% Noise","d":"δ=1.05d","g":15.6,"b":0.323},
{"r":"C","c":"5% Noise","d":"δ=1.1d","g":1.5,"b":0.18},{"r":"C","c":"5% Noise","d":"δ=1.1d","g":1.75,"b":0.13},{"r":"C","c":"5% Noise","d":"δ=1.1d","g":2,"b":0.2},{"r":"C","c":"5% Noise","d":"δ=1.1d","g":2.4,"b":0.3},{"r":"C","c":"5% Noise","d":"δ=1.1d","g":2.8,"b":0.345},{"r":"C","c":"5% Noise","d":"δ=1.1d","g":3.3,"b":0.37},{"r":"C","c":"5% Noise","d":"δ=1.1d","g":4.2,"b":0.388},{"r":"C","c":"5% Noise","d":"δ=1.1d","g":5.3,"b":0.39},{"r":"C","c":"5% Noise","d":"δ=1.1d","g":6.4,"b":0.375},{"r":"C","c":"5% Noise","d":"δ=1.1d","g":7.8,"b":0.36},{"r":"C","c":"5% Noise","d":"δ=1.1d","g":10,"b":0.317},{"r":"C","c":"5% Noise","d":"δ=1.1d","g":15.6,"b":0.254},
{"r":"C","c":"10% Noise","d":"δ=1d","g":1.5,"b":0.068},{"r":"C","c":"10% Noise","d":"δ=1d","g":1.75,"b":0.06},{"r":"C","c":"10% Noise","d":"δ=1d","g":2,"b":0.05},{"r":"C","c":"10% Noise","d":"δ=1d","g":2.4,"b":0.038},{"r":"C","c":"10% Noise","d":"δ=1d","g":2.8,"b":0.032},{"r":"C","c":"10% Noise","d":"δ=1d","g":3.3,"b":0.031},{"r":"C","c":"10% Noise","d":"δ=1d","g":4.2,"b":0.031},{"r":"C","c":"10% Noise","d":"δ=1d","g":5.3,"b":0.033},{"r":"C","c":"10% Noise","d":"δ=1d","g":6.4,"b":0.035},{"r":"C","c":"10% Noise","d":"δ=1d","g":7.8,"b":0.037},{"r":"C","c":"10% Noise","d":"δ=1d","g":10,"b":0.041},{"r":"C","c":"10% Noise","d":"δ=1d","g":15.6,"b":0.047},
{"r":"C","c":"10% Noise","d":"δ=1.01d","g":1.5,"b":0.12},{"r":"C","c":"10% Noise","d":"δ=1.01d","g":1.75,"b":0.105},{"r":"C","c":"10% Noise","d":"δ=1.01d","g":2,"b":0.09},{"r":"C","c":"10% Noise","d":"δ=1.01d","g":2.4,"b":0.074},{"r":"C","c":"10% Noise","d":"δ=1.01d","g":2.8,"b":0.066},{"r":"C","c":"10% Noise","d":"δ=1.01d","g":3.3,"b":0.064},{"r":"C","c":"10% Noise","d":"δ=1.01d","g":4.2,"b":0.064},{"r":"C","c":"10% Noise","d":"δ=1.01d","g":5.3,"b":0.067},{"r":"C","c":"10% Noise","d":"δ=1.01d","g":6.4,"b":0.07},{"r":"C","c":"10% Noise","d":"δ=1.01d","g":7.8,"b":0.073},{"r":"C","c":"10% Noise","d":"δ=1.01d","g":10,"b":0.078},{"r":"C","c":"10% Noise","d":"δ=1.01d","g":15.6,"b":0.092},
{"r":"C","c":"10% Noise","d":"δ=1.02d","g":1.5,"b":0.174},{"r":"C","c":"10% Noise","d":"δ=1.02d","g":1.75,"b":0.158},{"r":"C","c":"10% Noise","d":"δ=1.02d","g":2,"b":0.142},{"r":"C","c":"10% Noise","d":"δ=1.02d","g":2.4,"b":0.126},{"r":"C","c":"10% Noise","d":"δ=1.02d","g":2.8,"b":0.115},{"r":"C","c":"10% Noise","d":"δ=1.02d","g":3.3,"b":0.113},{"r":"C","c":"10% Noise","d":"δ=1.02d","g":4.2,"b":0.113},{"r":"C","c":"10% Noise","d":"δ=1.02d","g":5.3,"b":0.117},{"r":"C","c":"10% Noise","d":"δ=1.02d","g":6.4,"b":0.121},{"r":"C","c":"10% Noise","d":"δ=1.02d","g":7.8,"b":0.126},{"r":"C","c":"10% Noise","d":"δ=1.02d","g":10,"b":0.135},{"r":"C","c":"10% Noise","d":"δ=1.02d","g":15.6,"b":0.148},
{"r":"C","c":"10% Noise","d":"δ=1.05d","g":1.5,"b":0.262},{"r":"C","c":"10% Noise","d":"δ=1.05d","g":1.75,"b":0.27},{"r":"C","c":"10% Noise","d":"δ=1.05d","g":2,"b":0.278},{"r":"C","c":"10% Noise","d":"δ=1.05d","g":2.4,"b":0.283},{"r":"C","c":"10% Noise","d":"δ=1.05d","g":2.8,"b":0.286},{"r":"C","c":"10% Noise","d":"δ=1.05d","g":3.3,"b":0.287},{"r":"C","c":"10% Noise","d":"δ=1.05d","g":4.2,"b":0.287},{"r":"C","c":"10% Noise","d":"δ=1.05d","g":5.3,"b":0.288},{"r":"C","c":"10% Noise","d":"δ=1.05d","g":6.4,"b":0.287},{"r":"C","c":"10% Noise","d":"δ=1.05d","g":7.8,"b":0.287},{"r":"C","c":"10% Noise","d":"δ=1.05d","g":10,"b":0.282},{"r":"C","c":"10% Noise","d":"δ=1.05d","g":15.6,"b":0.277},
{"r":"C","c":"10% Noise","d":"δ=1.1d","g":1.5,"b":0.19},{"r":"C","c":"10% Noise","d":"δ=1.1d","g":1.75,"b":0.23},{"r":"C","c":"10% Noise","d":"δ=1.1d","g":2,"b":0.27},{"r":"C","c":"10% Noise","d":"δ=1.1d","g":2.4,"b":0.32},{"r":"C","c":"10% Noise","d":"δ=1.1d","g":2.8,"b":0.37},{"r":"C","c":"10% Noise","d":"δ=1.1d","g":3.3,"b":0.38},{"r":"C","c":"10% Noise","d":"δ=1.1d","g":4.2,"b":0.382},{"r":"C","c":"10% Noise","d":"δ=1.1d","g":5.3,"b":0.382},{"r":"C","c":"10% Noise","d":"δ=1.1d","g":6.4,"b":0.367},{"r":"C","c":"10% Noise","d":"δ=1.1d","g":7.8,"b":0.352},{"r":"C","c":"10% Noise","d":"δ=1.1d","g":10,"b":0.33},{"r":"C","c":"10% Noise","d":"δ=1.1d","g":15.6,"b":0.287},
{"r":"G","c":"10% Noise","lab":"Graph"},{"r":"C","c":"10% Noise","lab":"Clique"}
]},
"vconcat":[
{"data":{"name":"pts"},"transform":[{"filter":"datum.r=='G'"}],
 "facet":{"column":{"field":"c","sort":["No noise","1% Noise","3% Noise","5% Noise","10% Noise"],"header":{"title":null,"labelFontSize":8,"labelColor":"#262626","labelPadding":1,"labelFontWeight":"normal"}}},
 "spacing":{"column":3.5},
 "bounds":"flush",
 "spec":{"width":56.4,"height":222,
  "layer":[
   {"transform":[{"filter":"isValid(datum.d)"}],
    "encoding":{
     "x":{"field":"g","type":"quantitative","scale":{"domain":[1.05,16.3],"nice":false,"zero":false},
        "axis":{"title":null,"labels":false,"ticks":false,"values":[2,4,6,8,10,12,14,16],"gridWidth":{"condition":{"test":"datum.value % 4 == 0","value":0.8},"value":0.4}}},
     "y":{"field":"b","type":"quantitative","scale":{"domain":[0.003,1.705],"nice":false,"zero":false},
        "axis":{"title":"B1/N","values":[0.2,0.4,0.6,0.8,1.0,1.2,1.4,1.6],"format":".1f","labelExpr":"round(datum.value*10) % 4 == 0 ? datum.label : ''","tickOpacity":{"condition":{"test":"round(datum.value*10) % 4 == 0","value":1},"value":0},"gridWidth":{"condition":{"test":"round(datum.value*10) % 4 == 0","value":0.8},"value":0.4}}},
     "color":{"field":"d","type":"nominal","title":null,"scale":{"domain":["δ=1d","δ=1.01d","δ=1.02d","δ=1.05d","δ=1.1d"],"range":["#F2708A","#A8B000","#22E04E","#22DDF7","#E46EF0"]}}},
    "layer":[
     {"mark":{"type":"line","strokeWidth":0.9}},
     {"mark":{"type":"point","filled":true,"opacity":1,"size":17},
      "encoding":{"shape":{"field":"d","type":"nominal","title":null,"scale":{"domain":["δ=1d","δ=1.01d","δ=1.02d","δ=1.05d","δ=1.1d"],"range":["circle","square","diamond","triangle-up","triangle-down"]}}}}
    ]},
   {"transform":[{"filter":"isValid(datum.lab)"}],"mark":{"type":"text","align":"right","baseline":"middle","fontSize":15,"color":"#1a1a1a"},
    "encoding":{
     "x":{"datum":15.8,"type":"quantitative","scale":{"domain":[1.05,16.3],"nice":false,"zero":false},
        "axis":{"title":null,"labels":false,"ticks":false,"values":[2,4,6,8,10,12,14,16],"gridWidth":{"condition":{"test":"datum.value % 4 == 0","value":0.8},"value":0.4}}},
     "y":{"datum":1.6,"type":"quantitative","scale":{"domain":[0.003,1.705],"nice":false,"zero":false},
        "axis":{"title":"B1/N","values":[0.2,0.4,0.6,0.8,1.0,1.2,1.4,1.6],"format":".1f","labelExpr":"round(datum.value*10) % 4 == 0 ? datum.label : ''","tickOpacity":{"condition":{"test":"round(datum.value*10) % 4 == 0","value":1},"value":0},"gridWidth":{"condition":{"test":"round(datum.value*10) % 4 == 0","value":0.8},"value":0.4}}},
     "text":{"field":"lab"}}}
  ]}
},
{"data":{"name":"pts"},"transform":[{"filter":"datum.r=='C'"}],
 "facet":{"column":{"field":"c","sort":["No noise","1% Noise","3% Noise","5% Noise","10% Noise"],"header":{"title":"Γ","titleOrient":"bottom","labels":false,"titleFontSize":11,"titleFontWeight":"normal","titleColor":"#1a1a1a","titlePadding":-6}}},
 "spacing":{"column":3.5},
 "bounds":"flush",
 "spec":{"width":56.4,"height":222,
  "layer":[
   {"transform":[{"filter":"isValid(datum.d)"}],
    "encoding":{
     "x":{"field":"g","type":"quantitative","scale":{"domain":[1.05,16.3],"nice":false,"zero":false},
        "axis":{"title":null,"values":[2,4,6,8,10,12,14,16],"labelExpr":"datum.value % 4 == 0 ? datum.label : ''","tickOpacity":{"condition":{"test":"datum.value % 4 == 0","value":1},"value":0},"gridWidth":{"condition":{"test":"datum.value % 4 == 0","value":0.8},"value":0.4}}},
     "y":{"field":"b","type":"quantitative","scale":{"domain":[0.004,0.54],"nice":false,"zero":false},
        "axis":{"title":"B1/N","values":[0.05,0.1,0.15,0.2,0.25,0.3,0.35,0.4,0.45,0.5],"format":".1f","labelExpr":"round(datum.value*100) % 10 == 0 ? datum.label : ''","tickOpacity":{"condition":{"test":"round(datum.value*100) % 10 == 0","value":1},"value":0},"gridWidth":{"condition":{"test":"round(datum.value*100) % 10 == 0","value":0.8},"value":0.4}}},
     "color":{"field":"d","type":"nominal","title":null}},
    "layer":[
     {"mark":{"type":"line","strokeWidth":0.9}},
     {"mark":{"type":"point","filled":true,"opacity":1,"size":17},
      "encoding":{"shape":{"field":"d","type":"nominal","title":null}}}
    ]},
   {"transform":[{"filter":"isValid(datum.lab)"}],"mark":{"type":"text","align":"right","baseline":"middle","fontSize":15,"color":"#1a1a1a"},
    "encoding":{
     "x":{"datum":15.8,"type":"quantitative","scale":{"domain":[1.05,16.3],"nice":false,"zero":false},
        "axis":{"title":null,"values":[2,4,6,8,10,12,14,16],"labelExpr":"datum.value % 4 == 0 ? datum.label : ''","tickOpacity":{"condition":{"test":"datum.value % 4 == 0","value":1},"value":0},"gridWidth":{"condition":{"test":"datum.value % 4 == 0","value":0.8},"value":0.4}}},
     "y":{"datum":0.48,"type":"quantitative","scale":{"domain":[0.004,0.54],"nice":false,"zero":false},
        "axis":{"title":"B1/N","values":[0.05,0.1,0.15,0.2,0.25,0.3,0.35,0.4,0.45,0.5],"format":".1f","labelExpr":"round(datum.value*100) % 10 == 0 ? datum.label : ''","tickOpacity":{"condition":{"test":"round(datum.value*100) % 10 == 0","value":1},"value":0},"gridWidth":{"condition":{"test":"round(datum.value*100) % 10 == 0","value":0.8},"value":0.4}}},
     "text":{"field":"lab"}}}
  ]}
}
],
"spacing":1,
"resolve":{"scale":{"color":"shared","shape":"shared"}},
"config":{
 "font":"Liberation Sans",
 "view":{"stroke":"#a9b9bf","strokeWidth":1.3},
 "axis":{"labelFontSize":8,"labelColor":"#4d4d4d","tickColor":"#333333","tickSize":2.5,"domain":false,"gridColor":"#e6edf0","titleFontWeight":"normal","titleFontSize":9,"titleColor":"#222222","labelPadding":1,"titlePadding":2},
 "header":{"labelFontSize":8,"labelColor":"#262626"},
 "legend":{"orient":"bottom","direction":"horizontal","layout":{"bottom":{"anchor":"middle"}},"offset":16,"labelFontSize":9,"labelColor":"#222222","symbolSize":34,"columnPadding":13,"labelOffset":8,"padding":2,"titlePadding":0,"symbolStrokeWidth":0}
}
}
